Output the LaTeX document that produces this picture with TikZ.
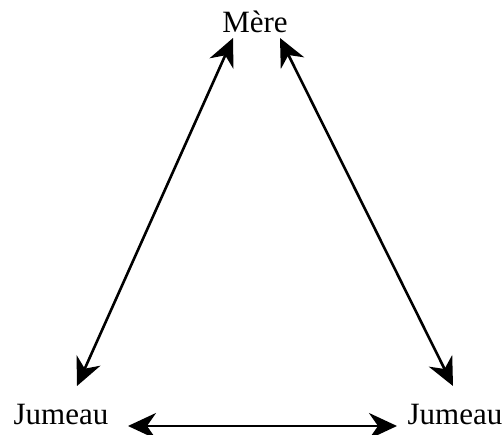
\documentclass[tikz,border=0pt]{standalone}
\usepackage{fontspec}
\setmainfont{Liberation Serif}
\usetikzlibrary{arrows.meta}
\begin{document}
\begin{tikzpicture}[x=1pt,y=-1pt,
  lbl/.style={inner sep=0pt,anchor=base,font=\fontsize{31}{35}\selectfont},
  link/.style={line width=2.6pt,{Stealth[inset=9pt,length=28pt,width=26pt]}-{Stealth[inset=9pt,length=28pt,width=26pt]}}]
\useasboundingbox (0,0) rectangle (504,435);
\node[lbl] (mere) at (255,33) {Mère};
\node[lbl] (jl) at (61,425) {Jumeau};
\node[lbl] (jr) at (455,425) {Jumeau};
\coordinate (mL) at (233,38);
\coordinate (mR) at (280,38);
\coordinate (lT) at (77,386);
\coordinate (rT) at (453,386);
\coordinate (bL) at (128,426);
\coordinate (bR) at (397,426);
\draw[link] (mL) -- (lT);
\draw[link] (mR) -- (rT);
\draw[link] (bL) -- (bR);
\end{tikzpicture}
\end{document}
